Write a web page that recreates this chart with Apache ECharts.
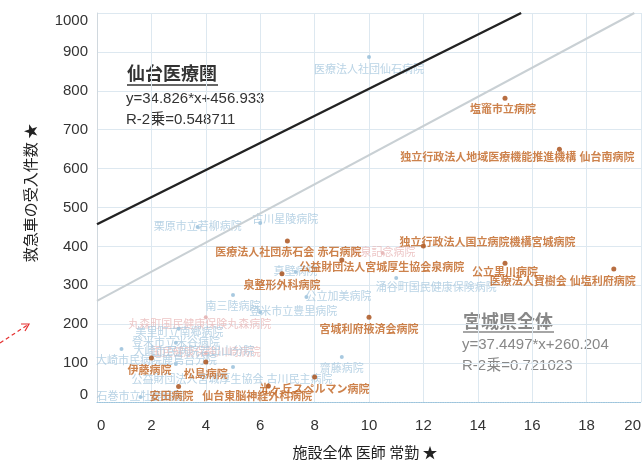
<!DOCTYPE html>
<html><head><meta charset="utf-8">
<script src="https://cdn.jsdelivr.net/npm/echarts@6/dist/echarts.min.js"></script>
<style>html,body{margin:0;padding:0;background:#fff}#c{width:644px;height:462px}</style>
</head><body><div id="c"></div>
<script>
// ---- data ----
const xTicks = [0,2,4,6,8,10,12,14,16,18,20];
const yTicks = [0,100,200,300,400,500,600,700,800,900,1000];

// 仙台医療圏 (orange)
const orangeNames = ['塩竈市立病院','独立行政法人地域医療機能推進機構 仙台南病院','医療法人社団赤石会 赤石病院','公益財団法人宮城厚生協会泉病院','独立行政法人国立病院機構宮城病院','公立黒川病院','医療法人寶樹会 仙塩利府病院','泉整形外科病院','宮城利府掖済会病院','伊藤病院','松島病院','光ヶ丘スペルマン病院','安田病院','仙台東脳神経外科病院'];
const orangeX = [15,17,7,9,12,15,19,6.8,10,2,4,8,3,6.3];
const orangeY = [781,650,414,365,401,357,342,330,218,113,103,64,40,41];

// other regions (light blue)
const blueNames = ['医療法人社団仙石病院','栗原市立若柳病院','古川星陵病院','真壁病院','公立加美病院','登米市立豊里病院','南三陸病院','涌谷町国民健康保険病院','齋藤病院','美里町立南郷病院','登米市立米谷病院','大崎市民病院鹿島台分院','大崎市民病院岩出山分院','公益財団法人宮城厚生協会 古川民主病院','石巻市立牡鹿病院'];
const blueX = [10,3.7,6,7.3,7.7,6,5,11,9,3,2.9,0.9,2.9,5,1.6];
const blueY = [887,450,460,334,270,231,275,319,116,188,152,136,98,90,13];

// 仙南 (pink)
const pinkNames = ['丸森町国民健康保険丸森病院','国民健康保険川崎病院','大泉記念病院'];
const pinkX = [4,4,10.5];
const pinkY = [218,126,383];

// regression equations shown on the chart
const sendaiSlope = 34.826, sendaiIntercept = 456.933;
const prefSlope = 37.4497, prefIntercept = 260.204;

// ---- label placement (pixel offsets of each label from its mark) ----
const orangeLabelShift = [[-2,12],[-42,9],[1,12],[40,8],[64,-3],[0,10],[-51,13],[0,12],[0,13],[-2,13],[0,13],[0,13],[-7,11],[-11,11]];
const blueLabelShift = [[0,13],[0,0],[25,-3],[0,0],[32,0],[33,0],[0,12],[40,10],[0,12],[1,4],[0,0],[35,12],[18,-12],[-1,13],[0,0]];
const pinkLabelShift = [[-6,8],[0,0],[0,0]];

const JP = '"Liberation Sans","Noto Sans CJK JP",sans-serif';

function pts(names, xs, ys, shifts){
  return names.map((n,i)=>({name:n, value:[xs[i], ys[i]], label:{offset:shifts[i]}}));
}
function trend(slope, intercept){
  const xEnd = Math.min(20, (1000 - intercept) / slope);
  return [[0, intercept], [xEnd, slope * xEnd + intercept]];
}

const chart = echarts.init(document.getElementById('c'), null, {renderer:'canvas'});
chart.setOption({
  animation:false,
  grid:{left:97, right:3, top:13, bottom:60},
  xAxis:{type:'value', min:0, max:20, interval:2,
    axisLine:{show:true, lineStyle:{color:'#9cc4dc', type:'dotted', width:1.2}},
    axisTick:{show:false},
    splitLine:{lineStyle:{color:'#dde8f0'}},
    axisLabel:{color:'#333', fontSize:15, fontFamily:JP, margin:16, alignMinLabel:'left', alignMaxLabel:'right',
      formatter:v=> xTicks.includes(v) ? String(v) : ''}},
  yAxis:{type:'value', min:0, max:1000, interval:100,
    axisLine:{show:true, lineStyle:{color:'#d0d8de'}},
    axisTick:{show:false},
    splitLine:{lineStyle:{color:'#dde8f0'}},
    axisLabel:{color:'#333', fontSize:15, fontFamily:JP, margin:9, verticalAlignMinLabel:'bottom', verticalAlignMaxLabel:'top',
      formatter:v=> yTicks.includes(v) ? String(v) : ''}},
  series:[
    {type:'scatter', z:2, symbolSize:4, itemStyle:{color:'#e2a9a9'},
     label:{show:true, position:'inside', formatter:'{b}', color:'#e8b8b8', fontSize:11, fontFamily:JP},
     data:pts(pinkNames,pinkX,pinkY,pinkLabelShift)},
    {type:'scatter', z:3, symbolSize:4, itemStyle:{color:'#92bcd8'},
     label:{show:true, position:'inside', formatter:'{b}', color:'#a7c8de', fontSize:11, fontFamily:JP},
     data:pts(blueNames,blueX,blueY,blueLabelShift)},
    {type:'scatter', z:4, symbolSize:5, itemStyle:{color:'#a64a12'},
     label:{show:true, position:'inside', formatter:'{b}', color:'#c0631f', fontSize:11, fontWeight:'bold', fontFamily:JP},
     data:pts(orangeNames,orangeX,orangeY,orangeLabelShift)},
    {type:'line', z:5, symbol:'none', silent:true, lineStyle:{color:'#c9d0d4', width:2}, data:trend(prefSlope,prefIntercept)},
    {type:'line', z:6, symbol:'none', silent:true, lineStyle:{color:'#222', width:2.5}, data:trend(sendaiSlope,sendaiIntercept)}
  ],
  graphic:[
    {type:'text', x:127, y:66, style:{text:'仙台医療圏', font:'bold 18px '+JP, fill:'#333'}},
    {type:'line', shape:{x1:127,y1:85,x2:218,y2:85}, style:{stroke:'#333', lineWidth:1.5}},
    {type:'text', x:126, y:91, style:{text:'y='+sendaiSlope+'*x+'+sendaiIntercept, font:'15px '+JP, fill:'#333'}},
    {type:'text', x:126, y:112, style:{text:'R-2乗=0.548711', font:'15px '+JP, fill:'#333'}},
    {type:'text', x:463, y:314, style:{text:'宮城県全体', font:'bold 18px '+JP, fill:'#888'}},
    {type:'line', shape:{x1:463,y1:332,x2:554,y2:332}, style:{stroke:'#888', lineWidth:1.5}},
    {type:'text', x:462, y:337, style:{text:'y='+prefSlope+'*x+'+prefIntercept, font:'15px '+JP, fill:'#888'}},
    {type:'text', x:462, y:358, style:{text:'R-2乗=0.721023', font:'15px '+JP, fill:'#888'}},
    {type:'text', x:30, y:193, rotation:Math.PI/2, style:{text:'救急車の受入件数 ★', font:'15px "Noto Sans CJK JP",sans-serif', fill:'#222', textAlign:'center', textVerticalAlign:'middle'}},
    {type:'text', x:365, y:452, style:{text:'施設全体 医師 常勤 ★', font:'15px "Noto Sans CJK JP",sans-serif', fill:'#222', textAlign:'center', textVerticalAlign:'middle'}},
    {type:'line', shape:{x1:0,y1:343,x2:29,y2:324}, style:{stroke:'#e53030', lineWidth:1.2, lineDash:[4,3]}},
    {type:'polyline', shape:{points:[[21,324],[29,324],[25,331]]}, style:{stroke:'#e53030', lineWidth:1.2, fill:null}}
  ]
});
</script></body></html>
